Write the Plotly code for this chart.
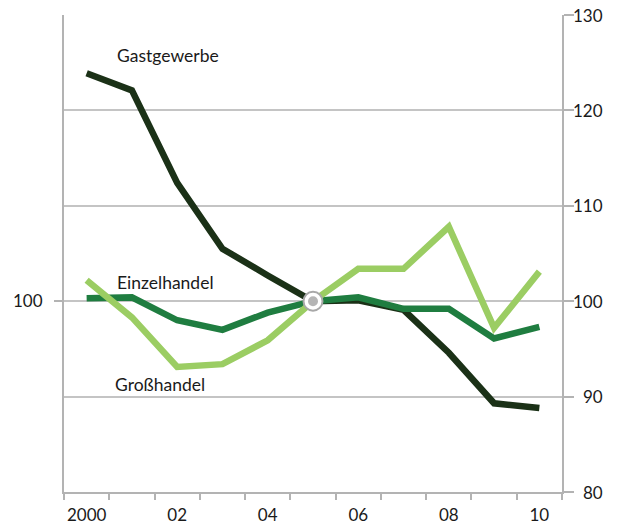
import plotly.graph_objects as go

years = [2000, 2001, 2002, 2003, 2004, 2005, 2006, 2007, 2008, 2009, 2010]
gastgewerbe = [123.9, 122.1, 112.4, 105.5, 102.7, 100.0, 100.1, 99.1, 94.6, 89.3, 88.8]
einzelhandel = [100.3, 100.4, 98.0, 97.0, 98.8, 100.0, 100.4, 99.2, 99.2, 96.1, 97.3]
grosshandel = [102.2, 98.3, 93.1, 93.4, 95.9, 100.0, 103.4, 103.4, 107.8, 97.2, 103.1]

x_tickvals = [2000, 2002, 2004, 2006, 2008, 2010]
x_ticktext = ["2000", "02", "04", "06", "08", "10"]
y_right_ticks = [80, 90, 100, 110, 120, 130]
y_left_ticks = [100]
base_year = 2005
base_value = 100

series_names = ["Gastgewerbe", "Einzelhandel", "Großhandel"]
label_pos = {"Gastgewerbe": (2000.63, 125.8), "Einzelhandel": (2000.63, 102.0), "Großhandel": (2000.59, 91.3)}

C_DARK = "#1b3117"
C_MID = "#1f7d40"
C_LIGHT = "#9bcd63"
GRID = "#c4c4c4"
AXIS = "#b3b3b3"
FONT = "Lato"

fig = go.Figure()
for name, vals, col in [("Gastgewerbe", gastgewerbe, C_DARK),
                        ("Einzelhandel", einzelhandel, C_MID),
                        ("Großhandel", grosshandel, C_LIGHT)]:
    fig.add_trace(go.Scatter(x=years, y=vals, mode="lines", name=name,
                             line=dict(color=col, width=6.5), showlegend=False))

fig.add_trace(go.Scatter(x=[base_year], y=[base_value], mode="markers", showlegend=False,
                         marker=dict(size=19, color="white", line=dict(color="#a8a8a8", width=2))))
fig.add_trace(go.Scatter(x=[base_year], y=[base_value], mode="markers", showlegend=False,
                         marker=dict(size=10, color="#b5b5b5")))
# dummy trace on left axis
fig.add_trace(go.Scatter(x=[base_year], y=[base_value], yaxis="y2", mode="markers",
                         marker=dict(opacity=0), showlegend=False, hoverinfo="skip"))

for name in series_names:
    px, py = label_pos[name]
    fig.add_annotation(x=px, y=py, xref="x", yref="y", text=name, showarrow=False,
                       xanchor="left", yanchor="middle",
                       font=dict(family=FONT, size=17.5, color="#1a1a1a"))

for v in y_right_ticks:
    fig.add_annotation(x=1, y=v, xref="paper", yref="y", text=str(v), showarrow=False,
                       xanchor="right", yanchor="middle", xshift=43,
                       font=dict(family=FONT, size=17, color="#1a1a1a"))

fig.update_layout(
    width=622, height=527,
    margin=dict(l=64, r=60, t=15, b=35, autoexpand=False),
    paper_bgcolor="white", plot_bgcolor="white",
    font=dict(family=FONT, size=17, color="#1a1a1a"),
    xaxis=dict(range=[1999.5, 2010.5], tickmode="array", tickvals=x_tickvals, ticktext=x_ticktext,
               ticks="", showgrid=False, zeroline=False, showline=True, linecolor=AXIS, linewidth=2,
               automargin=False, ticklabelstandoff=7,
               tickfont=dict(family=FONT, size=17, color="#1a1a1a"),
               minor=dict(tickmode="array", tickvals=[1999.5 + i for i in range(12)],
                          ticks="outside", ticklen=6, tickwidth=1.5, tickcolor=AXIS, showgrid=False)),
    yaxis=dict(range=[80, 130], side="right", tickmode="array", tickvals=y_right_ticks,
               showticklabels=False, ticks="outside", ticklen=10, tickwidth=1.5, tickcolor=AXIS,
               showgrid=True, gridcolor=GRID, gridwidth=1.5, zeroline=False, automargin=False,
               showline=True, linecolor=AXIS, linewidth=2),
    yaxis2=dict(range=[80, 130], side="left", overlaying="y", tickmode="array",
                tickvals=y_left_ticks, ticktext=[str(v) for v in y_left_ticks],
                ticks="outside", ticklen=8, tickwidth=1.5, tickcolor=AXIS, automargin=False,
                ticklabelstandoff=8,
                showgrid=False, zeroline=False, showline=True, linecolor=AXIS, linewidth=2,
                tickfont=dict(family=FONT, size=17, color="#1a1a1a")),
)

fig.write_html("out.html", config={"displayModeBar": False},
               post_script="document.body.style.margin='0';")
